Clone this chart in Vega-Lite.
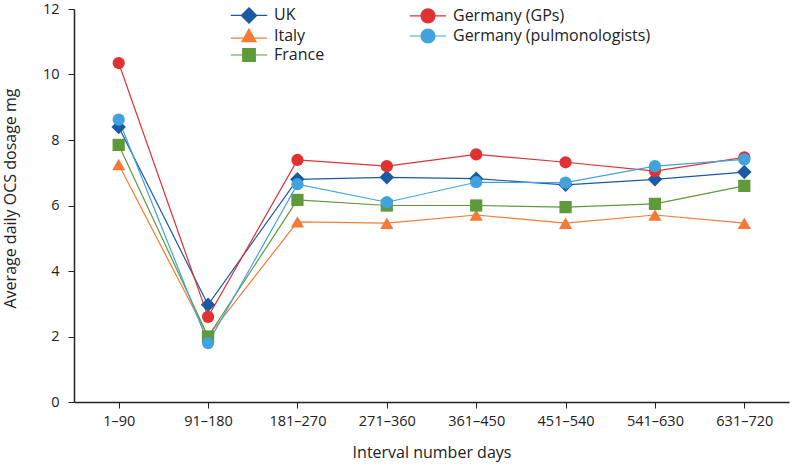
{
  "$schema": "https://vega.github.io/schema/vega-lite/v6.json",
  "width": 715,
  "height": 393,
  "autosize": {"type": "none"},
  "padding": {"left": 74, "top": 9, "right": 4, "bottom": 63},
  "background": "white",
  "config": {
    "font": "Open Sans",
    "view": {"stroke": null},
    "axis": {"labelFont": "Open Sans", "titleFont": "Open Sans", "labelColor": "#222", "titleColor": "#222", "titleFontWeight": "normal", "domainColor": "#222", "tickColor": "#222", "grid": false}
  },
  "data": {
    "values": [
      {"interval": "1–90", "country": "UK", "dose": 8.4},
      {"interval": "91–180", "country": "UK", "dose": 2.97},
      {"interval": "181–270", "country": "UK", "dose": 6.8},
      {"interval": "271–360", "country": "UK", "dose": 6.86},
      {"interval": "361–450", "country": "UK", "dose": 6.82},
      {"interval": "451–540", "country": "UK", "dose": 6.63},
      {"interval": "541–630", "country": "UK", "dose": 6.8},
      {"interval": "631–720", "country": "UK", "dose": 7.02},
      {"interval": "1–90", "country": "Italy", "dose": 7.25},
      {"interval": "91–180", "country": "Italy", "dose": 2.0},
      {"interval": "181–270", "country": "Italy", "dose": 5.5},
      {"interval": "271–360", "country": "Italy", "dose": 5.46},
      {"interval": "361–450", "country": "Italy", "dose": 5.71},
      {"interval": "451–540", "country": "Italy", "dose": 5.46},
      {"interval": "541–630", "country": "Italy", "dose": 5.71},
      {"interval": "631–720", "country": "Italy", "dose": 5.46},
      {"interval": "1–90", "country": "France", "dose": 7.85},
      {"interval": "91–180", "country": "France", "dose": 2.0},
      {"interval": "181–270", "country": "France", "dose": 6.17},
      {"interval": "271–360", "country": "France", "dose": 6.0},
      {"interval": "361–450", "country": "France", "dose": 6.0},
      {"interval": "451–540", "country": "France", "dose": 5.95},
      {"interval": "541–630", "country": "France", "dose": 6.05},
      {"interval": "631–720", "country": "France", "dose": 6.6},
      {"interval": "1–90", "country": "Germany (GPs)", "dose": 10.35},
      {"interval": "91–180", "country": "Germany (GPs)", "dose": 2.6},
      {"interval": "181–270", "country": "Germany (GPs)", "dose": 7.39},
      {"interval": "271–360", "country": "Germany (GPs)", "dose": 7.2},
      {"interval": "361–450", "country": "Germany (GPs)", "dose": 7.56},
      {"interval": "451–540", "country": "Germany (GPs)", "dose": 7.32},
      {"interval": "541–630", "country": "Germany (GPs)", "dose": 7.05},
      {"interval": "631–720", "country": "Germany (GPs)", "dose": 7.47},
      {"interval": "1–90", "country": "Germany (pulmonologists)", "dose": 8.62},
      {"interval": "91–180", "country": "Germany (pulmonologists)", "dose": 1.8},
      {"interval": "181–270", "country": "Germany (pulmonologists)", "dose": 6.65},
      {"interval": "271–360", "country": "Germany (pulmonologists)", "dose": 6.1},
      {"interval": "361–450", "country": "Germany (pulmonologists)", "dose": 6.71},
      {"interval": "451–540", "country": "Germany (pulmonologists)", "dose": 6.7},
      {"interval": "541–630", "country": "Germany (pulmonologists)", "dose": 7.2},
      {"interval": "631–720", "country": "Germany (pulmonologists)", "dose": 7.41}
    ]
  },
  "encoding": {
    "x": {
      "field": "interval", "type": "ordinal", "sort": null,
      "scale": {"type": "point", "padding": 0.5},
      "axis": {"title": "Interval number days", "labelAngle": 0, "labelFontSize": 14.5, "titleFontSize": 16, "labelPadding": 6, "titlePadding": 17, "tickSize": 6, "domainWidth": 1.5}
    },
    "y": {
      "field": "dose", "type": "quantitative",
      "scale": {"domain": [0, 12], "nice": false},
      "axis": {"title": "Average daily OCS dosage mg", "values": [0, 2, 4, 6, 8, 10, 12], "labelFontSize": 14.5, "titleFontSize": 16, "labelPadding": 9, "titlePadding": 24, "titleY": 189, "tickSize": 6, "domainWidth": 1.5}
    },
    "color": {
      "field": "country", "type": "nominal",
      "scale": {
        "domain": ["UK", "Italy", "France", "Germany (GPs)", "Germany (pulmonologists)"],
        "range": ["#1b5aa3", "#f57a38", "#5e9a3a", "#e03232", "#41a3dd"]
      },
      "legend": {
        "title": null,
        "orient": "none",
        "legendX": 167,
        "legendY": -2,
        "columns": 2,
        "columnPadding": 82,
        "rowPadding": 0,
        "padding": 0,
        "symbolSize": 196,
        "symbolOpacity": 1,
        "labelOffset": 17,
        "labelFontSize": 16,
        "labelLimit": 400,
        "labelColor": "#222",
        "labelFont": "Open Sans",
        "encode": {
          "symbols": {
            "update": {
              "shape": {"signal": "datum.value === 'UK' ? 'M-2.6,0H2.6M0,-1.1L1.1,0L0,1.1L-1.1,0Z' : datum.value === 'Italy' ? 'M-2.6,0.3H2.6M0,-1L1,0.8L-1,0.8Z' : datum.value === 'France' ? 'M-2.6,0H2.6M-0.9,-0.9H0.9V0.9H-0.9Z' : 'M-2.6,0H2.6M-1,0A1,1,0,1,0,1,0A1,1,0,1,0,-1,0Z'"},
              "fill": {"signal": "scale('color', datum.value)"},
              "stroke": {"signal": "scale('color', datum.value)"},
              "strokeWidth": {"value": 1.2},
              "opacity": {"value": 1}
            }
          }
        }
      }
    }
  },
  "layer": [
    {
      "mark": {"type": "line", "strokeWidth": 1.2},
      "encoding": {"detail": {"field": "country"}}
    },
    {
      "mark": {"type": "point", "filled": true, "opacity": 1},
      "encoding": {
        "shape": {
          "condition": [
            {"test": "datum.country === 'UK'", "value": "diamond"},
            {"test": "datum.country === 'Italy'", "value": "triangle-up"},
            {"test": "datum.country === 'France'", "value": "square"}
          ],
          "value": "circle"
        },
        "size": {
          "condition": [
            {"test": "datum.country === 'UK'", "value": 210},
            {"test": "datum.country === 'Italy'", "value": 175},
            {"test": "datum.country === 'France'", "value": 150}
          ],
          "value": 150
        }
      }
    }
  ]
}
